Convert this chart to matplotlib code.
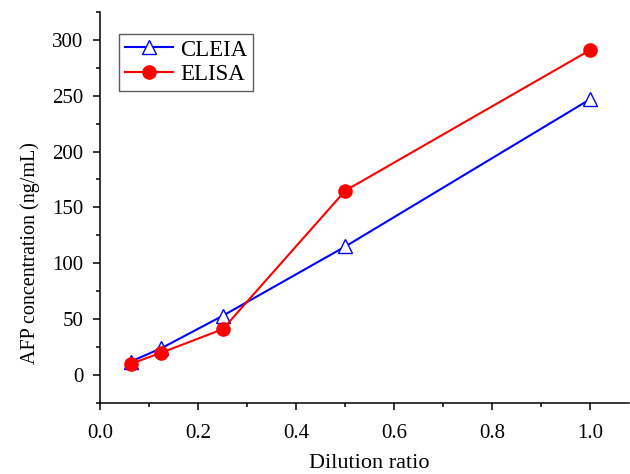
import numpy as np
import matplotlib
matplotlib.use("Agg")
import matplotlib.pyplot as plt
from matplotlib.ticker import MultipleLocator

# data
dilution = [0.0625, 0.125, 0.25, 0.5, 1.0]
cleia = [12, 24, 53, 115, 247]
elisa = [10, 20, 41, 165, 291]
xtick_labels = ['0.0', '0.2', '0.4', '0.6', '0.8', '1.0']

plt.rcParams['font.family'] = ['Liberation Serif', 'DejaVu Serif']

fig = plt.figure(figsize=(6.3, 4.74), dpi=100)
ax = fig.add_axes([0.159, 0.150, 0.839, 0.825])

ax.plot(dilution, cleia, color='#0000ff', lw=1.5, marker='^', ms=10,
        mfc='white', mec='#0000ff', mew=1.0, label='CLEIA')
ax.plot(dilution, elisa, color='#ff0000', lw=1.5, marker='o', ms=9.5,
        mfc='#ff0000', mec='#ff0000', label='ELISA')

ax.set_xlim(0.0, 1.078)
ax.set_ylim(-25, 325)
ax.xaxis.set_minor_locator(MultipleLocator(0.1))
ax.yaxis.set_major_locator(MultipleLocator(50))
ax.yaxis.set_minor_locator(MultipleLocator(25))
ax.set_xticks(np.arange(0, 1.01, 0.2))
ax.set_xticklabels(xtick_labels)

for s in ['top', 'right']:
    ax.spines[s].set_visible(False)
for s in ['left', 'bottom']:
    ax.spines[s].set_linewidth(1.1)

ax.tick_params(which='major', direction='out', length=5, width=1.1, labelsize=15)
ax.tick_params(which='minor', direction='out', length=3, width=1.1)
ax.tick_params(axis='x', which='major', pad=10)
ax.tick_params(axis='y', which='major', pad=7)

ax.set_xlabel('Dilution ratio', fontsize=16)
ax.xaxis.set_label_coords(0.51, -0.13)
ax.set_ylabel('AFP concentration (ng/mL)', fontsize=14.5)
ax.yaxis.set_label_coords(-0.113, 0.384)

leg = ax.legend(loc='upper left', bbox_to_anchor=(0.036, 0.944), fontsize=16.5,
                frameon=True, fancybox=False, edgecolor='#333333',
                handlelength=2.1, borderpad=0.25, labelspacing=0.15,
                handletextpad=0.3, borderaxespad=0)
leg.get_frame().set_linewidth(1.0)

fig.savefig('out.png', dpi=100)
